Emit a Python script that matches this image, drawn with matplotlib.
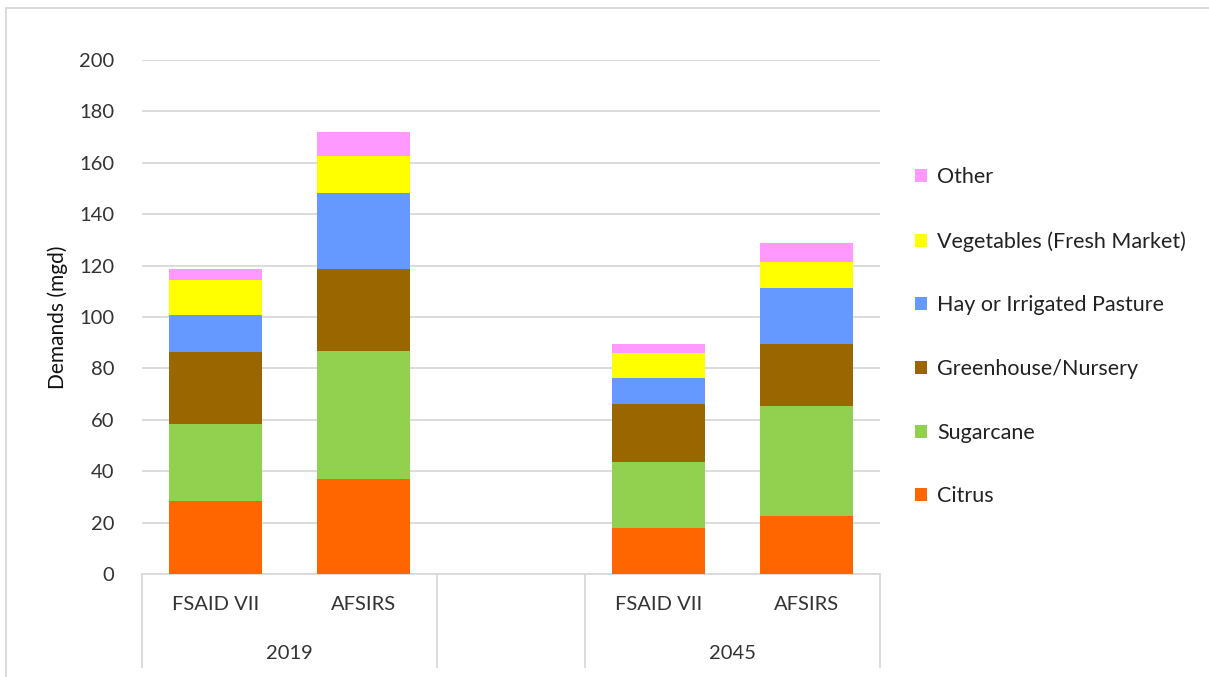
import numpy as np
import matplotlib.pyplot as plt
from matplotlib.patches import Patch
from matplotlib.lines import Line2D

plt.rcParams['font.family'] = ['Lato', 'DejaVu Sans']
plt.rcParams['font.size'] = 14

# data (mgd)
methods = ['FSAID VII', 'AFSIRS', '', 'FSAID VII', 'AFSIRS']
years = ['2019', '2045']
crops = ['Citrus', 'Sugarcane', 'Greenhouse/Nursery', 'Hay or Irrigated Pasture',
         'Vegetables (Fresh Market)', 'Other']
citrus = [28.5, 37.0, 0, 18.0, 22.6]
sugarcane = [29.9, 49.9, 0, 25.5, 42.8]
greenhouse = [28.0, 31.9, 0, 22.5, 24.0]
hay = [14.4, 29.4, 0, 10.4, 22.0]
vegetables = [13.5, 14.6, 0, 9.5, 9.9]
other = [4.4, 9.3, 0, 3.5, 7.4]
colors = ['#ff6600', '#92d050', '#996600', '#6699ff', '#ffff00', '#ff99ff']

series = [citrus, sugarcane, greenhouse, hay, vegetables, other]

fig = plt.figure(figsize=(12.09, 6.77), dpi=100)
ax = fig.add_axes([142 / 1209, 1 - 574 / 677, (880 - 142) / 1209, (574 - 60) / 677])

x = np.arange(len(methods))
bottom = np.zeros(len(methods))
for vals, name, c in zip(series, crops, colors):
    vals = np.array(vals)
    mask = vals > 0
    ax.bar(x[mask], vals[mask], width=0.63, bottom=bottom[mask], color=c, label=name, zorder=3)
    bottom += vals

grid_c = '#d9d9d9'
ax.set_xlim(-0.5, 4.5)
ax.set_ylim(0, 200)
ax.set_yticks(np.arange(0, 201, 20))
ax.yaxis.grid(True, color=grid_c, linewidth=1.3, zorder=0)
ax.tick_params(axis='y', length=0, pad=20, labelsize=14.5, colors='#333333')
ax.tick_params(axis='x', length=0)
ax.set_xticks([])
for s in ['top', 'right', 'left']:
    ax.spines[s].set_visible(False)
ax.spines['bottom'].set_color(grid_c)
ax.spines['bottom'].set_linewidth(1.3)
ax.set_ylabel('Demands (mgd)', fontsize=15, color='#111111', labelpad=8)

# multi-level category axis
trans = ax.get_xaxis_transform()
for i, m in enumerate(methods):
    if m:
        ax.text(i, -0.06, m, transform=trans, ha='center', va='center',
                fontsize=14.5, color='#333333')
for i, yr in zip([0.5, 3.5], years):
    ax.text(i, -0.155, yr, transform=trans, ha='center', va='center',
            fontsize=14.5, color='#333333')
y_end = -(667 - 574) / (574 - 60)
for xs in [-0.5, 1.5, 2.5, 4.5]:
    ax.add_line(Line2D([xs, xs], [0, y_end], transform=trans, color=grid_c,
                       linewidth=1.3, clip_on=False))

# legend (reversed order, Other on top)
handles = [Patch(facecolor=c, label=n) for c, n in zip(colors, crops)][::-1]
fig.legend(handles=handles, loc='upper left', bbox_to_anchor=(896 / 1209, 1 - 148 / 677),
           frameon=False, fontsize=15.5, handlelength=0.55, handleheight=0.55,
           handletextpad=0.45, labelspacing=2.03, labelcolor='#222222')

# outer chart border
fig.add_artist(Line2D([6 / 1209, 6 / 1209], [0, 1 - 8 / 677], transform=fig.transFigure,
                      color=grid_c, linewidth=1.3))
fig.add_artist(Line2D([6 / 1209, 1], [1 - 8 / 677, 1 - 8 / 677], transform=fig.transFigure,
                      color=grid_c, linewidth=1.3))

fig.savefig('out.png', dpi=100)
